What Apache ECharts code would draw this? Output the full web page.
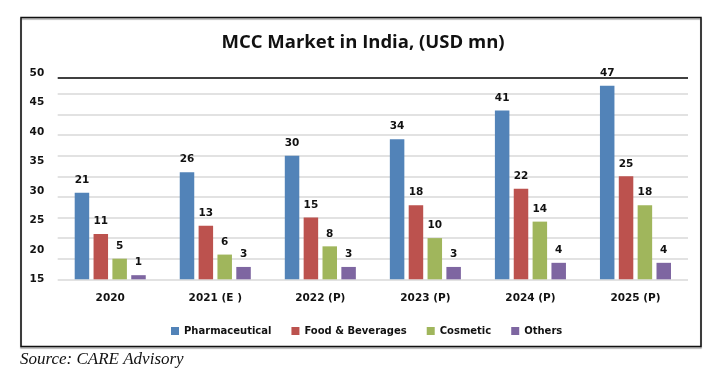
<!DOCTYPE html>
<html>
<head>
<meta charset="utf-8">
<script src="https://cdn.jsdelivr.net/npm/echarts@6/dist/echarts.min.js"></script>
<style>
html,body{margin:0;padding:0;background:#fff;}
#chart{width:710px;height:379px;}
</style>
</head>
<body>
<div id="chart"></div>
<script>
const categories = ['2020', '2021 (E )', '2022 (P)', '2023 (P)', '2024 (P)', '2025 (P)'];
const pharmaceutical = [21, 26, 30, 34, 41, 47];
const foodBeverages = [11, 13, 15, 18, 22, 25];
const cosmetic = [5, 6, 8, 10, 14, 18];
const others = [1, 3, 3, 3, 4, 4];
const seriesNames = ['Pharmaceutical', 'Food & Beverages', 'Cosmetic', 'Others'];
const axisTickLabels = [15, 20, 25, 30, 35, 40, 45, 50];
const topLineValue = 48.8;

const colors = ['#5283B8', '#BC524E', '#A0B65C', '#7E66A1'];
const lblFont = 'DejaVu Sans';

const chart = echarts.init(document.getElementById('chart'), null, {renderer: 'canvas'});

const gridColors = [];
for (let i = 0; i < 10; i++) gridColors.push('#e2e2e2');
gridColors.push('rgba(0,0,0,0)');

function mk(name, data, idx) {
  const s = {
    name: name,
    type: 'bar',
    data: data,
    yAxisIndex: 0,
    barWidth: 14.5,
    barGap: '30%',
    itemStyle: {color: colors[idx]},
    label: {
      show: true, position: 'top', distance: 7,
      color: '#111', fontFamily: lblFont, fontWeight: 'bold', fontSize: 10.5
    }
  };
  if (idx === 0) {
    s.markLine = {
      silent: true, symbol: ['none', 'none'],
      label: {show: false},
      lineStyle: {color: '#000', width: 1.5, type: 'solid'},
      data: [{yAxis: topLineValue}]
    };
  }
  return s;
}

chart.setOption({
  animation: false,
  title: {
    text: 'MCC Market in India, (USD mn)',
    left: 358, top: 28, textAlign: 'center',
    textStyle: {fontFamily: 'Open Sans', fontWeight: 'bold', fontSize: 18.5, color: '#111'}
  },
  legend: {
    left: 166, top: 321,
    itemWidth: 8, itemHeight: 8, itemGap: 20,
    icon: 'rect',
    textStyle: {fontFamily: lblFont, fontWeight: 'bold', fontSize: 10, color: '#111'},
    data: seriesNames
  },
  grid: {left: 57.7, right: 22, top: 73.3, bottom: 99.7},
  xAxis: {
    type: 'category', data: categories,
    axisLine: {show: false}, axisTick: {show: false},
    axisLabel: {margin: 13, color: '#111', fontFamily: lblFont, fontWeight: 'bold', fontSize: 10.5}
  },
  yAxis: [
    {
      type: 'value', min: 0, max: 50, interval: 5,
      axisLabel: {show: false}, axisLine: {show: false}, axisTick: {show: false},
      splitLine: {show: true, lineStyle: {color: gridColors, width: 2}}
    },
    {
      type: 'value', position: 'left', min: axisTickLabels[0], max: axisTickLabels[axisTickLabels.length - 1], interval: 5,
      axisLine: {show: false}, axisTick: {show: false}, splitLine: {show: false},
      axisLabel: {margin: 13.5, color: '#111', fontFamily: lblFont, fontWeight: 'bold', fontSize: 10.5}
    }
  ],
  graphic: [
    {
      type: 'rect', shape: {x: 21, y: 17.5, width: 680, height: 329},
      style: {fill: 'none', stroke: '#111', lineWidth: 1.5, shadowColor: 'rgba(0,0,0,0.35)', shadowOffsetY: 1.5, shadowBlur: 1},
      silent: true, z: -1
    },
    {
      type: 'text', left: 20, top: 351,
      style: {text: 'Source: CARE Advisory', font: 'italic 17px "Liberation Serif", "DejaVu Serif", serif', fill: '#111'}
    }
  ],
  series: [
    mk(seriesNames[0], pharmaceutical, 0),
    mk(seriesNames[1], foodBeverages, 1),
    mk(seriesNames[2], cosmetic, 2),
    mk(seriesNames[3], others, 3)
  ]
});
</script>
</body>
</html>
